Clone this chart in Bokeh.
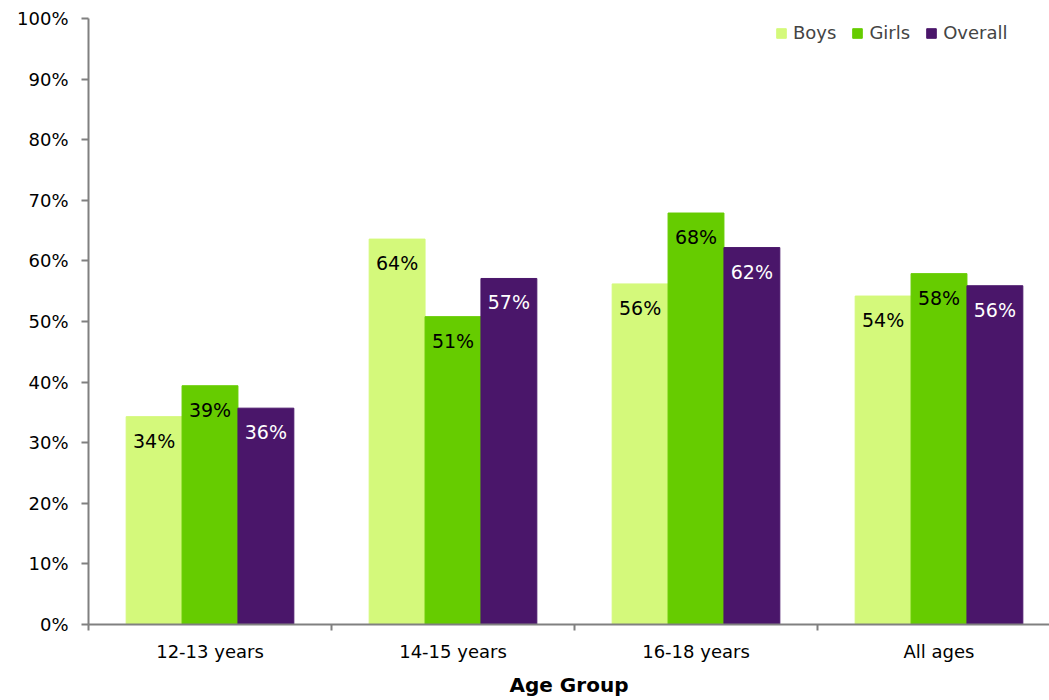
from bokeh.plotting import figure
from bokeh.models import Range1d, FixedTicker, ColumnDataSource, Legend, LegendItem
from bokeh.core.properties import value
from bokeh.embed import file_html
from bokeh.resources import INLINE

categories = ["12-13 years", "14-15 years", "16-18 years", "All ages"]
series = ["Boys", "Girls", "Overall"]
boys = [34.3, 63.6, 56.2, 54.2]
girls = [39.4, 50.8, 67.9, 57.9]
overall = [35.7, 57.1, 62.2, 55.9]
y_ticks = [0, 10, 20, 30, 40, 50, 60, 70, 80, 90, 100]
y_tick_labels = [f"{t}%" for t in y_ticks]

colors = ["#D4F97B", "#66CC00", "#4A166A"]
label_colors = ["black", "black", "white"]
FONT = "DejaVu Sans"

W, H = 1049, 700
LEFT, TOP, BOTTOM = 88, 18, 76
cat_px = 243.0
frame_w = W - LEFT
p = figure(width=W, height=H, output_backend="svg", toolbar_location=None,
           x_range=Range1d(0, frame_w / cat_px), y_range=Range1d(0, 100),
           min_border_left=LEFT, min_border_right=0, min_border_top=TOP,
           min_border_bottom=BOTTOM)
p.outline_line_color = None
p.xgrid.visible = False
p.ygrid.visible = False
p.background_fill_color = "white"

bar_w = 0.23
offsets = [-bar_w, 0.0, bar_w]
items = []
for s, vals, off, col, lc in zip(series, [boys, girls, overall], offsets, colors, label_colors):
    xs = [i + 0.5 + off for i in range(len(categories))]
    src = ColumnDataSource(dict(x=xs, top=vals, lab=[f"{round(v)}%" for v in vals]))
    r = p.vbar(x="x", top="top", width=bar_w, bottom=0, source=src,
               fill_color=col, line_color=col)
    p.text(x="x", y="top", text="lab", source=src, text_align="center",
           text_baseline="middle", y_offset=24, text_color=lc,
           text_font=value(FONT), text_font_size="19px")
    items.append(LegendItem(label=s, renderers=[r]))

legend = Legend(items=items, orientation="horizontal", location=(687, 581),
                padding=0, spacing=15, label_standoff=6, glyph_width=12,
                glyph_height=12, label_text_font=FONT, label_text_font_size="18px",
                background_fill_alpha=0, border_line_color=None, margin=0)
p.add_layout(legend, "center")

axis_gray = "#808080"
# x axis
xa = p.xaxis[0]
xa.ticker = FixedTicker(ticks=[i + 0.5 for i in range(len(categories))],
                        minor_ticks=list(range(len(categories) + 1)))
xa.major_label_overrides = {i + 0.5: c for i, c in enumerate(categories)}
xa.major_tick_line_color = None
xa.major_tick_out = 6
xa.major_tick_in = 0
xa.minor_tick_line_color = axis_gray
xa.minor_tick_line_width = 2
xa.minor_tick_out = 6
xa.minor_tick_in = 0
xa.axis_line_color = axis_gray
xa.axis_line_width = 2
xa.major_label_text_font = FONT
xa.major_label_text_font_size = "18px"
xa.major_label_text_color = "black"
xa.major_label_standoff = 10
xa.axis_label = "Age Group"
xa.axis_label_text_font = FONT
xa.axis_label_text_font_style = "bold"
xa.axis_label_text_font_size = "20px"
xa.axis_label_text_color = "black"
xa.axis_label_standoff = 8

# y axis
ya = p.yaxis[0]
ya.ticker = FixedTicker(ticks=y_ticks, minor_ticks=[])
ya.major_label_overrides = {t: l for t, l in zip(y_ticks, y_tick_labels)}
ya.major_tick_line_color = axis_gray
ya.major_tick_line_width = 2
ya.major_tick_out = 7
ya.major_tick_in = 0
ya.axis_line_color = axis_gray
ya.axis_line_width = 2
ya.major_label_text_font = FONT
ya.major_label_text_font_size = "18px"
ya.major_label_text_color = "black"
ya.major_label_standoff = 13

open("out.html", "w").write(file_html(p, INLINE))
